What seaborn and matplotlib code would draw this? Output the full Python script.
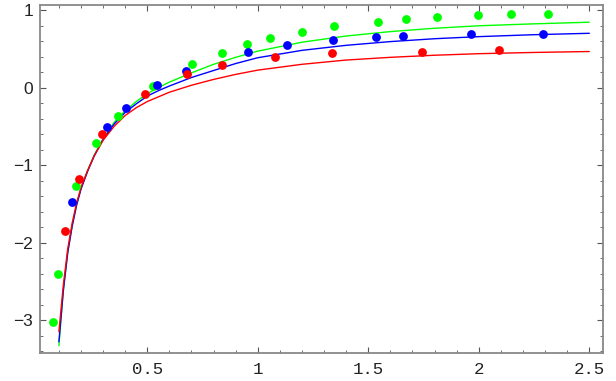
import numpy as np
import pandas as pd
import matplotlib
matplotlib.use("Agg")
import matplotlib.pyplot as plt
import seaborn as sns
from matplotlib.ticker import MultipleLocator

green_x = [0.074, 0.097, 0.178, 0.268, 0.366, 0.527, 0.701, 0.836, 0.952, 1.057,
           1.199, 1.345, 1.542, 1.672, 1.812, 1.998, 2.147, 2.313]
green_y = [-3.02, -2.41, -1.27, -0.72, -0.37, 0.02, 0.30, 0.45, 0.56, 0.64,
           0.72, 0.795, 0.85, 0.885, 0.91, 0.94, 0.955, 0.955]

blue_x = [0.160, 0.319, 0.405, 0.542, 0.675, 0.955, 1.131, 1.340, 1.536, 1.656,
          1.965, 2.292]
blue_y = [-1.47, -0.51, -0.26, 0.03, 0.21, 0.465, 0.555, 0.615, 0.653, 0.671,
          0.688, 0.697]

red_x = [0.127, 0.192, 0.294, 0.490, 0.681, 0.836, 1.078, 1.337, 1.741, 2.092]
red_y = [-1.845, -1.174, -0.60, -0.08, 0.17, 0.29, 0.395, 0.443, 0.465, 0.49]

# Fitted curves
curve_x = [0.10, 0.12, 0.14, 0.16, 0.18, 0.20, 0.23, 0.26, 0.30, 0.35, 0.40,
           0.45, 0.50, 0.55, 0.60, 0.70, 0.80, 0.90, 1.00, 1.20, 1.40, 1.60,
           1.80, 2.00, 2.25, 2.50]
green_curve = [-3.33, -2.62, -2.12, -1.78, -1.51, -1.30, -1.07, -0.87, -0.66,
               -0.45, -0.30, -0.18, -0.08, 0.00, 0.07, 0.19, 0.30, 0.39, 0.47,
               0.585, 0.665, 0.722, 0.765, 0.797, 0.822, 0.843]
blue_curve = [-3.28, -2.62, -2.13, -1.79, -1.52, -1.31, -1.08, -0.88, -0.67,
              -0.47, -0.32, -0.21, -0.11, -0.04, 0.02, 0.13, 0.22, 0.31, 0.385,
              0.48, 0.545, 0.593, 0.63, 0.657, 0.682, 0.70]
red_curve = [-3.15, -2.55, -2.08, -1.75, -1.49, -1.29, -1.07, -0.88, -0.68,
             -0.50, -0.36, -0.26, -0.18, -0.12, -0.06, 0.03, 0.105, 0.17, 0.225,
             0.30, 0.355, 0.39, 0.417, 0.437, 0.453, 0.465]

sns.set_style("ticks")

fig = plt.figure(figsize=(6.16, 3.81), dpi=100)
ax = fig.add_axes([40 / 616, 28.3 / 381, 563 / 616, 347.7 / 381])

curves = pd.DataFrame({"x": curve_x, "green": green_curve,
                       "blue": blue_curve, "red": red_curve})
for col, c in [("green", "#00ff00"), ("blue", "#0000ff"), ("red", "#ff0000")]:
    sns.lineplot(data=curves, x="x", y=col, color=c, lw=1.0, ax=ax,
                 sort=False, estimator=None)

for xs, ys, c in [(green_x, green_y, "#00ff00"), (blue_x, blue_y, "#0000ff"),
                  (red_x, red_y, "#ff0000")]:
    sns.scatterplot(x=xs, y=ys, color=c, s=40, linewidth=0, ax=ax, zorder=3)

ax.set_xlim(0.0145, 2.562)
ax.set_ylim(-3.42, 1.065)
ax.set_xlabel("")
ax.set_ylabel("")

ax.xaxis.set_major_locator(MultipleLocator(0.5))
ax.xaxis.set_minor_locator(MultipleLocator(0.1))
ax.yaxis.set_major_locator(MultipleLocator(1))
ax.yaxis.set_minor_locator(MultipleLocator(0.2))
ax.set_xticks([0.5, 1.0, 1.5, 2.0, 2.5])
ax.set_xticklabels(["0.5", "1", "1.5", "2", "2.5"], family="Liberation Mono",
                   fontsize=12.5)
ax.set_yticks([-3, -2, -1, 0, 1])
ax.set_yticklabels(["\u22123", "\u22122", "\u22121", "0", "1"],
                   family="Liberation Sans", fontsize=12.5)

ax.tick_params(which="both", direction="in", top=True, right=True,
               color="#555555", labelcolor="#222222")
ax.tick_params(which="major", length=4, width=0.8, pad=5)
ax.tick_params(axis="x", which="major", pad=6.5)
ax.tick_params(which="minor", length=2.3, width=0.6)
for s in ax.spines.values():
    s.set_color("#888888")
    s.set_linewidth(1.3)

fig.savefig("out.png", dpi=100)
